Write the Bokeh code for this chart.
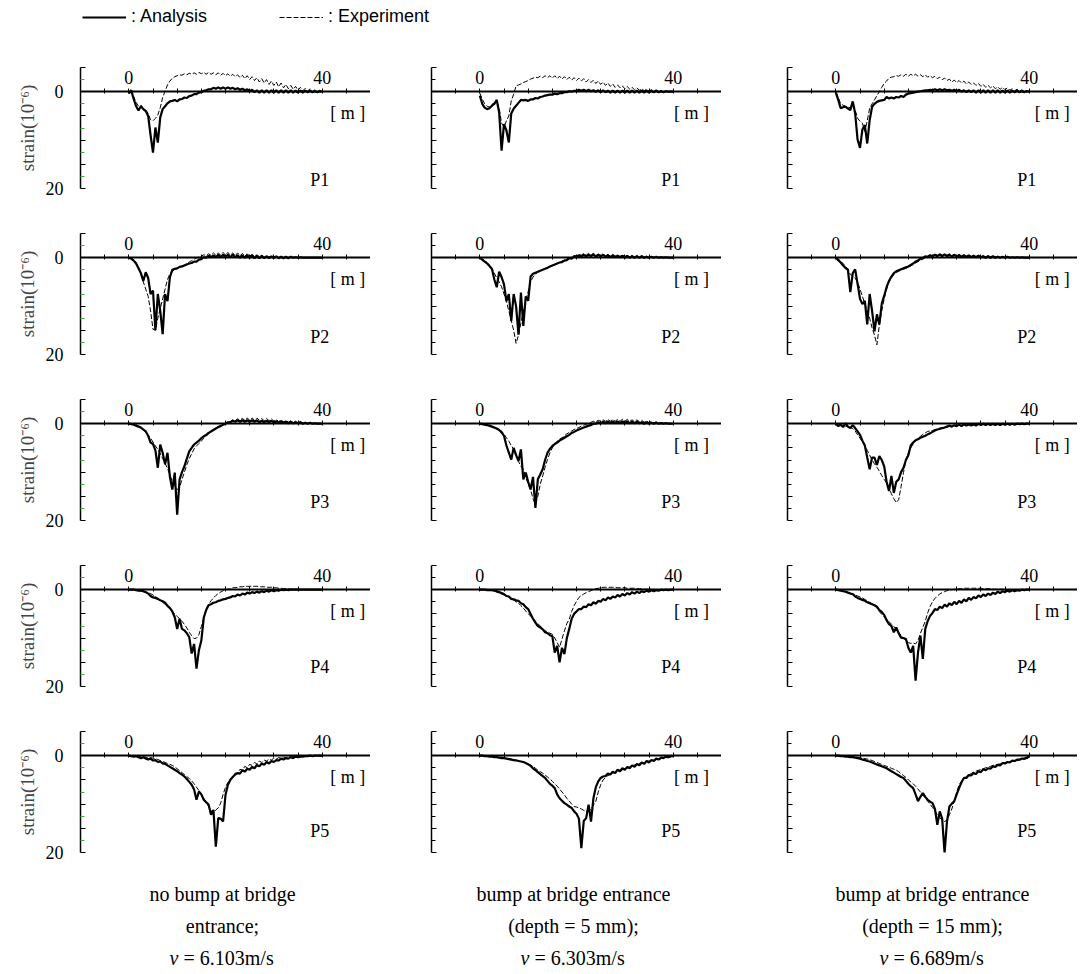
from bokeh.plotting import figure
from bokeh.models import Range1d, FixedTicker, Label, Legend, LegendItem
from bokeh.layouts import column, row
from bokeh.embed import file_html
from bokeh.resources import INLINE

# shared distance grid [m], 0.5 m step
X = [i * 0.5 for i in range(81)]

# ---------- P1 ----------
A11 = [0.4, -0.3, 1.5, 3.0, 3.9, 3.0, 3.6, 4.0, 5.0, 9.0,
       12.6, 7.4, 10.5, 5.3, 3.6, 3.0, 2.4, 2.0, 1.9, 1.7,
       2.0, 1.6, 1.5, 1.2, 1.3, 0.9, 0.8, 0.5, 0.5, 0.2,
       0.1, -0.2, -0.3, -0.5, -0.5, -0.8, -0.6, -0.9, -0.6, -0.9,
       -0.6, -0.9, -0.6, -0.8, -0.5, -0.7, -0.4, -0.6, -0.3, -0.5,
       -0.1, -0.4, 0.1, -0.3, 0.2, -0.3, 0.2, -0.3, 0.2, -0.3,
       0.2, -0.3, 0.2, -0.3, 0.2, -0.3, 0.2, -0.3, 0.2, -0.2,
       0.2, -0.2, 0.2, -0.2, 0.1, -0.2, 0.1, -0.1, 0.1, -0.1,
       0.0]
E11 = [0.2, 0.0, 1.0, 2.2, 3.0, 2.8, 3.5, 3.8, 4.5, 5.8,
       6.0, 5.5, 4.8, 3.3, 1.2, -0.1, -1.4, -2.2, -2.8, -3.1,
       -3.3, -3.5, -3.4, -3.7, -3.5, -3.8, -3.6, -3.9, -3.6, -4.0,
       -3.7, -4.0, -3.6, -4.0, -3.6, -3.9, -3.5, -3.9, -3.4, -3.8,
       -3.3, -3.7, -3.2, -3.6, -3.1, -3.5, -2.9, -3.4, -2.7, -3.3,
       -2.5, -3.1, -2.3, -2.9, -2.0, -2.7, -1.8, -2.5, -1.5, -2.2,
       -1.3, -2.0, -1.0, -1.8, -0.8, -1.5, -0.6, -1.3, -0.5, -1.1,
       -0.3, -0.9, -0.2, -0.7, -0.1, -0.6, 0.0, -0.4, 0.0, -0.3,
       0.0]
A12 = [0.8, 2.5, 3.3, 3.6, 3.4, 2.9, 2.5, 1.7, 4.3, 12.2,
       6.7, 8.0, 10.5, 4.5, 3.5, 2.9, 2.3, 1.7, 1.8, 1.7,
       1.9, 1.6, 1.6, 1.3, 1.4, 1.1, 1.0, 0.8, 0.7, 0.6,
       0.6, 0.4, 0.5, 0.3, 0.3, 0.1, 0.1, -0.1, 0.0, -0.2,
       -0.2, -0.4, -0.2, -0.4, -0.1, -0.4, -0.1, -0.3, 0.0, -0.3,
       0.1, -0.3, 0.1, -0.2, 0.2, -0.2, 0.2, -0.2, 0.2, -0.2,
       0.2, -0.2, 0.2, -0.2, 0.2, -0.2, 0.2, -0.2, 0.2, -0.2,
       0.2, -0.2, 0.1, -0.2, 0.1, -0.1, 0.1, -0.1, 0.0, 0.0,
       0.0]
E12 = [0.3, 1.5, 2.5, 3.0, 3.2, 2.6, 2.3, 2.0, 3.5, 6.5,
       7.3, 6.0, 5.0, 1.9, 0.5, -1.2, -1.4, -1.6, -1.9, -2.1,
       -2.3, -2.6, -2.8, -3.0, -2.9, -3.2, -2.9, -3.3, -2.9, -3.3,
       -2.8, -3.3, -2.7, -3.2, -2.6, -3.1, -2.5, -3.0, -2.4, -2.9,
       -2.3, -2.8, -2.2, -2.7, -2.0, -2.5, -1.9, -2.4, -1.7, -2.2,
       -1.5, -2.0, -1.3, -1.8, -1.1, -1.6, -0.9, -1.4, -0.8, -1.2,
       -0.6, -1.1, -0.5, -0.9, -0.4, -0.8, -0.3, -0.6, -0.2, -0.5,
       -0.1, -0.4, 0.0, -0.4, 0.1, -0.3, 0.1, -0.2, 0.1, -0.1,
       0.0]
A13 = [0.2, 1.7, 3.4, 3.2, 3.1, 3.5, 3.8, 2.0, 4.5, 9.9,
       11.6, 7.8, 6.9, 10.7, 5.9, 3.1, 2.5, 2.1, 1.9, 1.8,
       1.7, 1.1, 1.4, 1.2, 1.4, 1.1, 1.2, 0.9, 1.1, 0.6,
       0.4, 0.3, 0.2, 0.1, 0.0, -0.1, -0.2, -0.3, -0.3, -0.4,
       -0.3, -0.5, -0.3, -0.5, -0.3, -0.5, -0.3, -0.4, -0.2, -0.4,
       -0.1, -0.4, 0.0, -0.3, 0.1, -0.3, 0.1, -0.3, 0.2, -0.3,
       0.2, -0.3, 0.2, -0.3, 0.2, -0.3, 0.2, -0.3, 0.2, -0.2,
       0.2, -0.2, 0.2, -0.2, 0.1, -0.2, 0.1, -0.1, 0.1, -0.1,
       0.0]
E13 = [0.1, 1.2, 2.5, 2.8, 3.0, 3.2, 3.3, 2.5, 3.8, 5.5,
       6.1, 6.5, 8.2, 6.0, 3.4, 2.5, 1.7, 0.8, 0.0, -0.9,
       -1.7, -2.2, -2.8, -3.0, -3.1, -3.3, -3.2, -3.5, -3.2, -3.6,
       -3.2, -3.6, -3.3, -3.6, -3.2, -3.5, -3.1, -3.5, -3.0, -3.3,
       -2.9, -3.2, -2.7, -3.0, -2.5, -2.8, -2.3, -2.6, -2.0, -2.4,
       -1.9, -2.3, -1.8, -2.2, -1.6, -2.0, -1.5, -1.8, -1.3, -1.7,
       -1.1, -1.5, -0.9, -1.3, -0.8, -1.2, -0.6, -1.0, -0.5, -0.9,
       -0.4, -0.8, -0.3, -0.6, -0.2, -0.5, -0.1, -0.4, 0.0, -0.2,
       0.0]

# ---------- P2 ----------
A21 = [0.0, 0.2, 0.6, 1.2, 2.2, 3.2, 4.8, 3.0, 4.2, 7.5,
       6.8, 15.0, 7.5, 11.0, 15.8, 7.5, 9.0, 4.0, 2.5, 2.3,
       2.2, 1.9, 1.8, 1.6, 1.4, 1.2, 1.1, 0.8, 0.8, 0.4,
       0.3, -0.1, 0.0, -0.4, -0.1, -0.5, -0.1, -0.6, -0.1, -0.6,
       -0.1, -0.6, -0.1, -0.6, -0.1, -0.5, 0.0, -0.5, 0.0, -0.5,
       0.0, -0.5, 0.1, -0.4, 0.1, -0.4, 0.1, -0.3, 0.1, -0.3,
       0.1, -0.3, 0.1, -0.2, 0.1, -0.2, 0.1, -0.2, 0.0, -0.1,
       0.0, -0.1, 0.0, 0.0, 0.0, 0.0, 0.0, 0.0, 0.0, 0.0,
       0.0]
E21 = [0.0, 0.1, 0.4, 1.0, 2.0, 3.5, 5.0, 6.5, 8.0, 11.0,
       14.8, 15.0, 12.5, 10.5, 8.5, 6.5, 4.5, 3.3, 2.8, 2.5,
       2.2, 2.0, 1.7, 1.5, 1.2, 0.9, 0.6, 0.3, 0.1, -0.2,
       -0.3, -0.6, -0.4, -0.8, -0.5, -1.0, -0.5, -1.0, -0.5, -1.1,
       -0.5, -1.1, -0.5, -1.0, -0.4, -1.0, -0.4, -0.9, -0.3, -0.8,
       -0.3, -0.7, -0.2, -0.6, -0.2, -0.5, -0.1, -0.4, -0.1, -0.3,
       -0.1, -0.3, 0.0, -0.2, 0.0, -0.2, 0.0, -0.1, 0.0, -0.1,
       0.0, 0.0, 0.0, 0.0, 0.0, 0.0, 0.0, 0.0, 0.0, 0.0,
       0.0]
A22 = [0.0, 0.4, 0.8, 1.2, 1.7, 2.3, 4.5, 6.1, 2.9, 4.0,
       5.5, 9.0, 7.5, 13.1, 7.5, 10.0, 15.9, 7.2, 14.1, 8.0,
       8.9, 3.9, 3.3, 3.1, 2.9, 2.7, 2.5, 2.3, 2.1, 1.8,
       1.6, 1.4, 1.2, 1.0, 0.9, 0.6, 0.5, 0.1, 0.2, -0.3,
       -0.1, -0.5, -0.2, -0.6, -0.2, -0.6, -0.3, -0.7, -0.2, -0.6,
       -0.2, -0.6, -0.2, -0.5, -0.1, -0.5, -0.1, -0.4, -0.1, -0.4,
       0.0, -0.4, 0.0, -0.3, 0.0, -0.3, 0.0, -0.3, 0.0, -0.2,
       0.0, -0.2, 0.0, -0.2, 0.0, -0.1, 0.0, -0.1, 0.0, 0.0,
       0.0]
E22 = [0.0, 0.3, 0.6, 1.0, 1.5, 2.2, 3.2, 4.2, 5.0, 6.0,
       7.5, 9.0, 11.0, 13.0, 15.0, 17.7, 16.0, 13.5, 11.0, 9.0,
       7.0, 5.0, 4.0, 3.4, 3.0, 2.7, 2.5, 2.3, 2.1, 1.9,
       1.7, 1.5, 1.2, 1.0, 0.7, 0.5, 0.3, 0.0, -0.1, -0.4,
       -0.4, -0.7, -0.5, -0.9, -0.5, -0.9, -0.5, -0.9, -0.4, -0.8,
       -0.4, -0.8, -0.3, -0.7, -0.3, -0.7, -0.3, -0.6, -0.2, -0.6,
       -0.2, -0.5, -0.1, -0.5, -0.1, -0.4, -0.1, -0.4, 0.0, -0.3,
       0.0, -0.3, 0.0, -0.2, 0.0, -0.2, 0.0, -0.1, 0.0, 0.0,
       0.0]
A23 = [0.0, 0.5, 1.0, 1.6, 2.1, 2.5, 7.1, 3.2, 2.4, 5.4,
       8.5, 9.6, 8.9, 13.8, 7.5, 11.0, 15.2, 11.7, 13.8, 9.5,
       7.9, 6.1, 4.8, 3.9, 3.2, 2.8, 2.6, 2.4, 2.2, 2.0,
       1.8, 1.5, 1.2, 0.8, 0.6, 0.2, 0.1, -0.3, -0.2, -0.5,
       -0.3, -0.6, -0.3, -0.7, -0.3, -0.7, -0.3, -0.6, -0.2, -0.6,
       -0.2, -0.5, -0.2, -0.5, -0.1, -0.5, -0.1, -0.4, -0.1, -0.4,
       -0.1, -0.3, 0.0, -0.3, 0.0, -0.3, 0.0, -0.2, 0.0, -0.2,
       0.0, -0.2, 0.0, -0.1, 0.0, -0.1, 0.0, -0.1, 0.0, 0.0,
       0.0]
E23 = [0.0, 0.3, 0.7, 1.2, 1.8, 2.3, 3.5, 3.8, 4.2, 5.0,
       6.5, 8.0, 9.5, 11.0, 12.5, 14.5, 16.0, 18.0, 14.0, 11.0,
       8.5, 6.5, 5.0, 4.2, 3.5, 3.1, 2.8, 2.6, 2.4, 2.2,
       2.0, 1.7, 1.4, 1.1, 0.8, 0.5, 0.3, 0.0, -0.1, -0.4,
       -0.4, -0.7, -0.5, -0.8, -0.5, -0.8, -0.5, -0.8, -0.4, -0.7,
       -0.4, -0.7, -0.3, -0.6, -0.3, -0.6, -0.2, -0.5, -0.2, -0.5,
       -0.2, -0.4, -0.1, -0.4, -0.1, -0.3, -0.1, -0.3, 0.0, -0.2,
       0.0, -0.2, 0.0, -0.1, 0.0, -0.1, 0.0, 0.0, 0.0, 0.0,
       0.0]

# ---------- P3 ----------
A31 = [0.0, 0.1, 0.2, 0.4, 0.6, 0.8, 1.2, 1.6, 2.5, 3.9,
       4.2, 5.5, 9.1, 4.3, 6.0, 8.4, 6.0, 11.0, 13.6, 10.1,
       18.8, 11.5, 10.0, 8.8, 7.2, 5.7, 5.0, 4.3, 3.9, 3.5,
       3.0, 2.6, 2.3, 1.9, 1.6, 1.3, 1.0, 0.7, 0.5, 0.2,
       0.0, -0.3, -0.3, -0.6, -0.4, -0.7, -0.4, -0.7, -0.4, -0.7,
       -0.4, -0.7, -0.4, -0.7, -0.3, -0.6, -0.3, -0.6, -0.3, -0.6,
       -0.2, -0.5, -0.2, -0.5, -0.2, -0.4, -0.1, -0.4, -0.1, -0.3,
       -0.1, -0.3, 0.0, -0.2, 0.0, -0.2, 0.0, -0.1, 0.0, 0.0,
       0.0]
E31 = [0.0, 0.0, 0.1, 0.2, 0.5, 0.8, 1.3, 1.8, 2.4, 3.0,
       3.8, 4.6, 5.3, 6.2, 7.2, 8.2, 9.3, 10.5, 12.0, 12.8,
       13.6, 13.2, 11.5, 10.0, 8.5, 7.2, 6.2, 5.2, 4.6, 4.1,
       3.6, 3.0, 2.6, 2.1, 1.6, 1.2, 0.9, 0.6, 0.3, 0.1,
       -0.1, -0.4, -0.4, -0.8, -0.6, -1.0, -0.7, -1.1, -0.7, -1.2,
       -0.7, -1.2, -0.7, -1.2, -0.7, -1.1, -0.6, -1.1, -0.6, -1.0,
       -0.5, -0.9, -0.4, -0.8, -0.3, -0.7, -0.3, -0.6, -0.2, -0.5,
       -0.1, -0.4, -0.1, -0.3, 0.0, -0.2, 0.0, -0.1, 0.0, 0.0,
       0.0]
A32 = [0.0, 0.1, 0.2, 0.3, 0.4, 0.6, 0.8, 1.0, 1.3, 1.8,
       2.5, 4.5, 6.0, 7.4, 5.0, 6.5, 7.7, 5.3, 11.5, 10.1,
       12.0, 13.6, 11.0, 17.4, 11.5, 10.5, 9.4, 7.5, 6.0, 5.2,
       4.6, 4.2, 3.9, 3.5, 3.2, 2.9, 2.6, 2.3, 1.9, 1.7,
       1.4, 1.2, 1.0, 0.8, 0.6, 0.4, 0.3, 0.0, 0.0, -0.3,
       -0.1, -0.4, -0.1, -0.5, -0.1, -0.5, -0.1, -0.5, -0.1, -0.5,
       -0.1, -0.5, -0.1, -0.4, -0.1, -0.4, -0.1, -0.3, 0.0, -0.3,
       0.0, -0.2, 0.0, -0.2, 0.0, -0.1, 0.0, -0.1, 0.0, 0.0,
       0.0]
E32 = [0.0, 0.1, 0.2, 0.3, 0.5, 0.7, 0.9, 1.1, 1.3, 1.5,
       2.2, 2.9, 3.6, 4.5, 5.3, 6.5, 7.8, 8.8, 9.4, 11.0,
       12.5, 13.6, 15.5, 16.7, 15.0, 12.5, 10.8, 9.0, 7.4, 6.0,
       5.0, 4.2, 3.6, 3.2, 2.9, 2.5, 2.1, 1.8, 1.5, 1.2,
       1.0, 0.8, 0.5, 0.3, 0.1, -0.1, -0.3, -0.5, -0.4, -0.7,
       -0.5, -0.8, -0.5, -0.9, -0.5, -0.9, -0.5, -0.9, -0.5, -0.9,
       -0.5, -0.9, -0.5, -0.8, -0.4, -0.8, -0.4, -0.7, -0.3, -0.6,
       -0.2, -0.5, -0.2, -0.4, -0.1, -0.3, 0.0, -0.2, 0.0, 0.0,
       0.0]
A33 = [0.0, 0.5, 0.2, 0.7, -0.1, 0.6, 0.9, 0.3, 0.9, 1.6,
       2.3, 3.5, 4.5, 7.0, 9.4, 7.0, 7.0, 8.5, 6.7, 7.5,
       8.8, 12.0, 13.9, 10.8, 14.3, 12.0, 11.5, 10.0, 9.1, 7.5,
       6.5, 4.5, 3.9, 3.4, 3.2, 2.9, 2.7, 2.5, 2.2, 2.0,
       1.7, 1.4, 1.2, 1.1, 0.9, 0.8, 0.6, 0.4, 0.6, 0.3,
       0.5, 0.2, 0.5, 0.1, 0.4, 0.1, 0.4, 0.1, 0.4, 0.0,
       0.3, 0.0, 0.3, 0.0, 0.3, 0.0, 0.3, 0.0, 0.3, 0.0,
       0.2, 0.0, 0.2, 0.0, 0.2, 0.0, 0.1, 0.0, 0.1, 0.0,
       0.0]
E33 = [0.0, 0.1, 0.2, 0.3, 0.5, 0.6, 0.8, 1.0, 1.5, 2.3,
       3.0, 3.8, 4.5, 5.5, 6.5, 7.5, 8.3, 9.0, 9.8, 10.7,
       11.5, 12.2, 13.3, 14.5, 15.5, 16.3, 15.7, 13.0, 10.1, 7.5,
       6.0, 5.0, 4.2, 3.6, 3.0, 2.6, 2.2, 1.9, 1.6, 1.5,
       1.4, 1.2, 1.1, 0.9, 0.9, 0.7, 0.7, 0.5, 0.6, 0.4,
       0.5, 0.3, 0.4, 0.2, 0.3, 0.2, 0.2, 0.1, 0.2, 0.0,
       0.1, 0.0, 0.1, 0.0, 0.1, 0.0, 0.0, 0.0, 0.0, 0.0,
       0.0, 0.0, 0.0, 0.0, 0.0, 0.0, 0.0, 0.0, 0.0, 0.0,
       0.0]

# ---------- P4 ----------
A41 = [0.0, 0.0, 0.0, 0.1, 0.2, 0.2, 0.3, 0.5, 0.8, 1.3,
       1.6, 1.7, 1.9, 2.2, 2.4, 2.7, 3.3, 3.8, 4.5, 5.7,
       8.1, 6.0, 8.1, 8.4, 9.0, 9.8, 13.2, 11.2, 16.3, 12.5,
       10.5, 5.8, 4.2, 3.2, 3.0, 2.7, 2.6, 2.3, 2.2, 2.0,
       1.9, 1.7, 1.6, 1.3, 1.4, 1.0, 1.2, 0.8, 1.0, 0.6,
       0.8, 0.5, 0.7, 0.4, 0.6, 0.3, 0.5, 0.2, 0.4, 0.1,
       0.3, 0.1, 0.2, 0.0, 0.1, 0.0, 0.1, 0.0, 0.0, 0.0,
       0.0, 0.0, 0.0, 0.0, 0.0, 0.0, 0.0, 0.0, 0.0, 0.0,
       0.0]
E41 = [0.0, 0.0, 0.0, 0.1, 0.2, 0.3, 0.4, 0.5, 0.6, 0.8,
       1.1, 1.4, 1.8, 2.2, 2.6, 3.0, 3.5, 4.0, 4.5, 5.0,
       5.5, 6.0, 6.5, 7.2, 7.9, 8.8, 9.5, 10.1, 10.0, 9.3,
       7.6, 5.8, 4.0, 3.0, 2.3, 1.7, 1.2, 0.8, 0.5, 0.2,
       0.0, -0.1, -0.2, -0.4, -0.4, -0.5, -0.6, -0.6, -0.7, -0.7,
       -0.7, -0.7, -0.7, -0.7, -0.6, -0.6, -0.6, -0.5, -0.5, -0.5,
       -0.4, -0.4, -0.3, -0.3, -0.2, -0.2, -0.2, -0.1, -0.1, -0.1,
       0.0, 0.0, 0.0, 0.0, 0.0, 0.0, 0.0, 0.0, 0.0, 0.0,
       0.0]
A42 = [0.0, 0.0, 0.0, 0.1, 0.1, 0.1, 0.2, 0.3, 0.5, 0.7,
       0.9, 1.3, 1.4, 1.9, 2.0, 2.2, 2.3, 2.8, 3.0, 3.6,
       4.0, 5.0, 6.0, 6.8, 7.5, 7.8, 8.2, 8.8, 9.0, 9.4,
       9.6, 13.0, 11.6, 15.0, 12.0, 13.3, 10.0, 8.1, 6.0, 5.0,
       4.5, 4.0, 4.0, 3.5, 3.6, 3.0, 3.2, 2.6, 2.9, 2.3,
       2.5, 1.9, 2.2, 1.6, 1.9, 1.4, 1.6, 1.1, 1.4, 0.9,
       1.2, 0.7, 1.0, 0.5, 0.8, 0.4, 0.7, 0.3, 0.5, 0.2,
       0.4, 0.1, 0.3, 0.1, 0.2, 0.0, 0.1, 0.0, 0.1, 0.0,
       0.0]
E42 = [0.0, 0.0, 0.0, 0.1, 0.1, 0.2, 0.3, 0.5, 0.7, 0.9,
       1.1, 1.3, 1.5, 1.8, 2.1, 2.5, 2.8, 3.3, 3.8, 4.4,
       5.0, 5.4, 6.0, 6.5, 7.0, 7.5, 8.0, 8.5, 8.7, 9.0,
       9.2, 10.0, 10.9, 11.9, 10.2, 8.5, 7.0, 6.1, 4.5, 3.3,
       2.4, 1.6, 1.2, 0.9, 0.6, 0.4, 0.2, 0.0, -0.2, -0.3,
       -0.4, -0.5, -0.5, -0.5, -0.5, -0.5, -0.5, -0.4, -0.4, -0.4,
       -0.4, -0.3, -0.3, -0.3, -0.3, -0.2, -0.2, -0.2, -0.1, -0.1,
       -0.1, -0.1, 0.0, 0.0, 0.0, 0.0, 0.0, 0.0, 0.0, 0.0,
       0.0]
A43 = [0.0, 0.1, 0.2, 0.3, 0.4, 0.6, 0.8, 0.9, 1.4, 1.7,
       1.9, 2.1, 2.3, 2.6, 2.8, 3.0, 3.2, 3.5, 4.2, 4.6,
       5.2, 6.3, 7.1, 7.5, 8.8, 7.8, 9.0, 9.9, 10.0, 10.2,
       12.0, 13.0, 11.6, 18.8, 13.0, 9.5, 14.3, 8.1, 6.5, 5.4,
       4.8, 4.0, 4.2, 3.5, 3.8, 3.1, 3.5, 2.8, 3.2, 2.5,
       3.0, 2.3, 2.7, 2.0, 2.4, 1.7, 2.1, 1.5, 1.8, 1.2,
       1.5, 1.0, 1.3, 0.8, 1.1, 0.6, 0.9, 0.4, 0.7, 0.3,
       0.5, 0.2, 0.4, 0.1, 0.3, 0.1, 0.2, 0.0, 0.1, 0.0,
       0.0]
E43 = [0.0, 0.1, 0.2, 0.3, 0.4, 0.6, 0.7, 0.9, 1.1, 1.3,
       1.5, 1.7, 2.0, 2.3, 2.6, 2.9, 3.3, 3.8, 4.5, 5.1,
       5.6, 6.1, 6.6, 7.1, 7.6, 8.2, 8.8, 9.5, 10.0, 10.5,
       10.9, 11.1, 11.0, 11.2, 10.5, 9.0, 7.8, 6.5, 4.8, 3.5,
       2.5, 1.8, 1.3, 0.9, 0.6, 0.4, 0.2, 0.1, 0.0, -0.1,
       -0.1, -0.2, -0.2, -0.3, -0.3, -0.3, -0.3, -0.3, -0.3, -0.3,
       -0.3, -0.2, -0.2, -0.2, -0.2, -0.1, -0.1, -0.1, -0.1, -0.1,
       0.0, 0.0, 0.0, 0.0, 0.0, 0.0, 0.0, 0.0, 0.0, 0.0,
       0.0]

# ---------- P5 ----------
A51 = [0.0, 0.1, 0.2, 0.1, 0.3, 0.5, 0.3, 0.6, 0.8, 0.6,
       1.0, 0.9, 1.3, 1.2, 1.6, 1.7, 2.0, 2.3, 2.6, 2.9,
       3.2, 3.6, 3.9, 4.3, 4.8, 5.4, 6.0, 7.0, 9.1, 7.4,
       8.0, 9.1, 9.6, 10.1, 12.2, 11.2, 18.8, 12.9, 13.0, 13.6,
       8.1, 6.0, 5.0, 4.4, 3.9, 3.6, 3.7, 3.0, 3.3, 2.7,
       2.9, 2.3, 2.6, 1.9, 2.2, 1.6, 1.9, 1.3, 1.6, 1.1,
       1.3, 0.9, 1.0, 0.6, 0.8, 0.5, 0.6, 0.3, 0.5, 0.2,
       0.3, 0.2, 0.2, 0.1, 0.1, 0.0, 0.1, 0.0, 0.0, 0.0,
       0.0]
E51 = [0.0, 0.0, 0.1, 0.1, 0.2, 0.2, 0.3, 0.3, 0.4, 0.4,
       0.5, 0.6, 0.8, 1.0, 1.2, 1.4, 1.6, 1.8, 2.0, 2.3,
       2.7, 3.1, 3.5, 3.9, 4.3, 4.7, 5.2, 5.8, 6.5, 7.2,
       8.0, 8.8, 9.6, 10.5, 11.3, 11.9, 11.2, 10.8, 9.8, 8.0,
       6.5, 5.5, 4.8, 4.5, 3.6, 3.6, 2.8, 3.0, 2.2, 2.5,
       1.8, 2.0, 1.4, 1.7, 1.1, 1.4, 0.9, 1.1, 0.7, 0.9,
       0.5, 0.7, 0.4, 0.5, 0.3, 0.4, 0.2, 0.3, 0.2, 0.1,
       0.1, 0.1, 0.1, 0.0, 0.0, 0.0, 0.0, 0.0, 0.0, 0.0,
       0.0]
A52 = [0.0, 0.0, 0.1, 0.1, 0.2, 0.2, 0.3, 0.3, 0.4, 0.5,
       0.5, 0.6, 0.7, 0.8, 0.9, 1.0, 1.1, 1.2, 1.3, 1.5,
       1.8, 2.1, 2.6, 3.0, 3.4, 3.8, 4.2, 4.6, 5.2, 5.8,
       6.2, 6.7, 8.0, 8.8, 9.3, 9.8, 10.1, 10.5, 10.8, 11.5,
       12.0, 13.0, 19.1, 13.5, 12.9, 10.1, 13.6, 8.8, 6.5, 5.3,
       4.6, 4.3, 4.2, 3.7, 3.9, 3.3, 3.6, 2.9, 3.2, 2.6,
       2.9, 2.3, 2.6, 2.0, 2.3, 1.7, 2.0, 1.4, 1.7, 1.1,
       1.4, 0.9, 1.1, 0.6, 0.8, 0.4, 0.5, 0.2, 0.3, 0.1,
       0.1]
E52 = [0.0, 0.0, 0.0, 0.1, 0.1, 0.1, 0.2, 0.2, 0.3, 0.3,
       0.4, 0.5, 0.6, 0.7, 0.8, 0.9, 1.0, 1.2, 1.3, 1.5,
       1.7, 1.9, 2.2, 2.6, 3.0, 3.3, 3.6, 4.0, 4.4, 4.8,
       5.3, 5.8, 6.3, 6.9, 7.5, 8.1, 8.8, 9.4, 10.0, 10.5,
       10.6, 10.8, 11.0, 11.3, 11.5, 11.5, 11.0, 10.2, 9.4, 7.5,
       6.0, 5.0, 4.5, 4.1, 3.9, 3.6, 3.4, 3.2, 3.0, 2.9,
       2.7, 2.5, 2.3, 2.1, 1.9, 1.8, 1.6, 1.5, 1.4, 1.2,
       1.1, 1.0, 0.9, 0.8, 0.7, 0.6, 0.5, 0.4, 0.4, 0.3,
       0.3]
A53 = [0.0, 0.0, 0.1, 0.1, 0.2, 0.2, 0.3, 0.3, 0.4, 0.5,
       0.6, 0.8, 0.9, 1.1, 1.2, 1.4, 1.6, 1.8, 2.0, 2.2,
       2.4, 2.6, 2.9, 3.2, 3.5, 3.8, 4.1, 4.4, 4.6, 5.2,
       5.8, 6.3, 6.7, 8.0, 9.4, 8.5, 7.7, 8.5, 9.1, 9.5,
       9.8, 11.0, 14.3, 11.5, 13.0, 20.1, 13.6, 10.5, 9.9, 9.4,
       8.0, 6.7, 5.5, 4.6, 4.6, 4.0, 4.1, 3.6, 3.8, 3.2,
       3.4, 2.8, 3.0, 2.6, 2.7, 2.2, 2.3, 1.9, 2.0, 1.5,
       1.6, 1.3, 1.4, 1.0, 1.1, 0.8, 0.8, 0.6, 0.6, 0.4,
       0.2]
E53 = [0.0, 0.0, 0.0, 0.1, 0.1, 0.1, 0.2, 0.2, 0.3, 0.3,
       0.4, 0.5, 0.6, 0.7, 0.8, 1.0, 1.2, 1.4, 1.6, 1.8,
       2.0, 2.2, 2.4, 2.6, 2.8, 3.0, 3.3, 3.7, 4.1, 4.5,
       5.0, 5.4, 5.8, 6.3, 6.9, 7.5, 8.1, 8.7, 9.4, 10.0,
       10.7, 11.4, 12.2, 12.8, 13.3, 13.6, 13.3, 12.2, 11.0, 9.4,
       7.5, 6.0, 5.3, 4.8, 4.3, 4.0, 3.7, 3.4, 3.2, 3.0,
       2.9, 2.7, 2.5, 2.4, 2.2, 2.0, 1.9, 1.8, 1.7, 1.6,
       1.5, 1.4, 1.3, 1.2, 1.1, 1.0, 0.9, 0.8, 0.7, 0.6,
       0.5]

ANALYSIS = [[A11, A12, A13], [A21, A22, A23], [A31, A32, A33],
            [A41, A42, A43], [A51, A52, A53]]
EXPERIMENT = [[E11, E12, E13], [E21, E22, E23], [E31, E32, E33],
              [E41, E42, E43], [E51, E52, E53]]
for rr in ANALYSIS + EXPERIMENT:
    for s in rr:
        assert len(s) == len(X), len(s)

POINT_LABELS = ["P1", "P2", "P3", "P4", "P5"]
X_TICKS = [-10, -5, 0, 5, 10, 15, 20, 25, 30, 35, 40, 45, 50]
X_LABELED = [0, 40]
Y_TICKS = [-5, 0, 5, 10, 15, 20]
Y_MINOR = [-2.5, 2.5, 7.5, 12.5, 17.5]
Y_LABELED = [0, 20]
CAPTIONS = [["no bump at bridge", "entrance;"],
            ["bump at bridge entrance", "(depth = 5 mm);"],
            ["bump at bridge entrance", "(depth = 15 mm);"]]
SPEEDS = ["= 6.103m/s", "= 6.303m/s", "= 6.689m/s"]

SERIF = "Liberation Serif"
BORDER_L = [80, 61, 66]
FRAME_W = [290, 290, 290]
P_LABEL_Y = [18.3, 16.4, 16.2, 16.0, 15.6]
M_LABEL_X = [45.3, 43.8, 44.8]


def panel(ri, ci):
    p = figure(width=BORDER_L[ci] + FRAME_W[ci], height=166,
               x_range=Range1d(-10, 50), y_range=Range1d(20, -5),
               x_axis_location="above", y_axis_location="left",
               output_backend="svg", toolbar_location=None,
               min_border_left=BORDER_L[ci], min_border_right=0,
               min_border_top=19, min_border_bottom=26)
    p.outline_line_color = None
    p.xgrid.visible = False
    p.ygrid.visible = False

    xa = p.xaxis[0]
    xa.fixed_location = 0
    xa.ticker = FixedTicker(ticks=X_TICKS, minor_ticks=[])
    xa.major_label_overrides = {t: (str(t) if t in X_LABELED else "") for t in X_TICKS}
    xa.axis_line_width = 2
    xa.axis_line_color = "black"
    xa.major_tick_in = 2
    xa.major_tick_out = 3
    xa.major_tick_line_color = "black"
    xa.major_label_standoff = 5
    xa.major_label_text_font = SERIF
    xa.major_label_text_font_size = "18px"
    xa.major_label_text_color = "black"

    ya = p.yaxis[0]
    ya.ticker = FixedTicker(ticks=Y_TICKS, minor_ticks=Y_MINOR)
    ya.major_label_overrides = {t: (str(t) if (ci == 0 and t in Y_LABELED) else "")
                                for t in Y_TICKS}
    ya.axis_line_width = 1.5
    ya.axis_line_color = "black"
    ya.major_tick_in = 5
    ya.major_tick_out = 0
    ya.minor_tick_in = 4
    ya.minor_tick_out = 0
    ya.major_tick_line_color = "black"
    ya.minor_tick_line_color = "#33bb33" if ci == 0 else "black"
    ya.major_label_standoff = 17
    ya.major_label_text_font = SERIF
    ya.major_label_text_font_size = "18px"
    ya.major_label_text_color = "black"
    if ci == 0:
        ya.axis_label = "strain(10⁻⁶)"
        ya.axis_label_text_font = SERIF
        ya.axis_label_text_font_style = "normal"
        ya.axis_label_text_font_size = "19px"
        ya.axis_label_standoff = 5

    p.line(X, ANALYSIS[ri][ci], line_width=2.2, line_color="black")
    p.line(X, EXPERIMENT[ri][ci], line_width=1, line_color="black", line_dash="5 2")

    p.add_layout(Label(x=M_LABEL_X[ci], y=4.3, text="[ m ]", text_font=SERIF,
                       text_font_size="18px", text_align="center",
                       text_baseline="middle", text_color="black"))
    p.add_layout(Label(x=39.5, y=P_LABEL_Y[ri], text=POINT_LABELS[ri], text_font=SERIF,
                       text_font_size="18px", text_align="center",
                       text_baseline="middle", text_color="black"))
    return p


# legend strip
leg = figure(width=1077, height=48, x_range=Range1d(100, 101), y_range=Range1d(100, 101),
             output_backend="svg", toolbar_location=None, min_border=0,
             x_axis_location=None, y_axis_location=None)
leg.outline_line_color = None
leg.xgrid.visible = False
leg.ygrid.visible = False
r_a = leg.line(X, A11, line_width=2.2, line_color="black")
r_e = leg.line(X, E11, line_width=1, line_color="black", line_dash="5 2")
legend = Legend(items=[LegendItem(label=": Analysis", renderers=[r_a]),
                       LegendItem(label=": Experiment", renderers=[r_e])],
                orientation="horizontal", location=(82, 21),
                glyph_width=44, glyph_height=20, label_standoff=5, spacing=72,
                padding=0, margin=0, border_line_color=None,
                background_fill_alpha=0, label_text_font="Liberation Sans",
                label_text_font_size="18px", label_text_color="black")
leg.add_layout(legend)

# captions strip
cap = figure(width=1077, height=94, x_range=Range1d(0, 1077), y_range=Range1d(94, 0),
             output_backend="svg", toolbar_location=None, min_border=0,
             x_axis_location=None, y_axis_location=None)
cap.outline_line_color = None
cap.xgrid.visible = False
cap.ygrid.visible = False
CAP_X = [222, 573, 932]
CAP_Y = [15, 47, 79]
for ci in range(3):
    cx = CAP_X[ci]
    for li, txt in enumerate(CAPTIONS[ci]):
        cap.add_layout(Label(x=cx, y=CAP_Y[li], text=txt, text_font=SERIF,
                             text_font_size="20px", text_align="center",
                             text_baseline="middle", text_color="black"))
    cap.add_layout(Label(x=cx - 44, y=CAP_Y[2], text="v", text_font=SERIF,
                         text_font_style="italic", text_font_size="20px",
                         text_align="right", text_baseline="middle", text_color="black"))
    cap.add_layout(Label(x=cx - 39, y=CAP_Y[2], text=SPEEDS[ci], text_font=SERIF,
                         text_font_size="20px", text_align="left",
                         text_baseline="middle", text_color="black"))

rows = [row(*[panel(ri, ci) for ci in range(3)]) for ri in range(5)]
layout = column(leg, *rows, cap)

open("out.html", "w").write(file_html(layout, INLINE))
